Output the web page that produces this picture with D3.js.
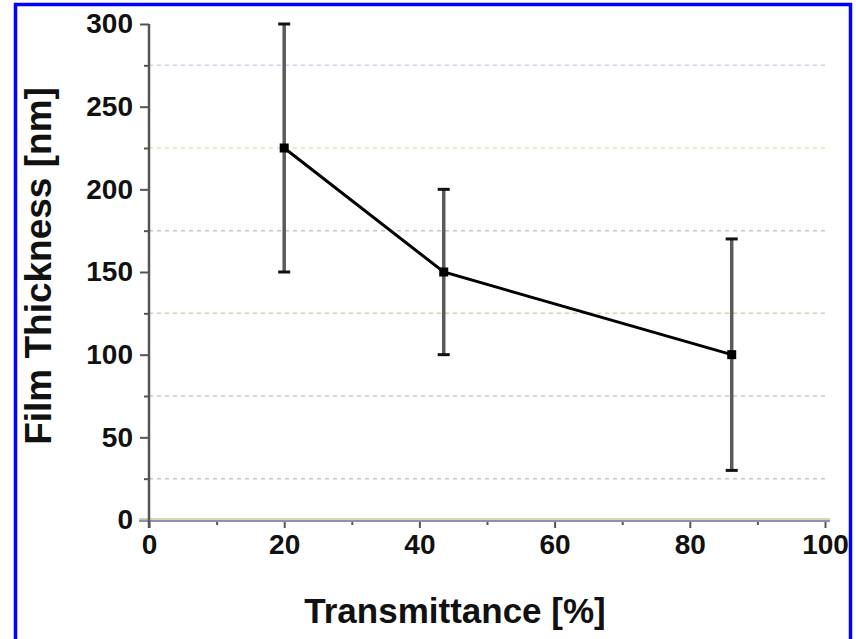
<!DOCTYPE html>
<html>
<head>
<meta charset="utf-8">
<script src="https://cdn.jsdelivr.net/npm/d3@7"></script>
<style>
  body { margin: 0; background: #fff; }
  text { font-family: "Liberation Sans", Arial, sans-serif; font-weight: bold; fill: #111; }
</style>
</head>
<body>
<div id="chart"></div>
<script>
var svgWidth = 856;
var svgHeight = 639;

var margin = { top: 24, right: 31, bottom: 119, left: 149 };
var width = svgWidth - margin.left - margin.right;
var height = svgHeight - margin.top - margin.bottom;

// data
var transmittance = [20, 43.6, 86.2];
var thickness = [225, 150, 100];
var errLow = [150, 100, 30];
var errHigh = [300, 200, 170];

var xTicks = [0, 20, 40, 60, 80, 100];
var yTicks = [0, 50, 100, 150, 200, 250, 300];
var gridValues = [25, 75, 125, 175, 225, 275];
var gridColors = ["#c4c4cc", "#c4c8dc", "#d4d0b4", "#c4c4cc", "#e2e2b0", "#d0d0ec"];

var svg = d3.select("#chart")
  .append("svg")
  .attr("width", svgWidth)
  .attr("height", svgHeight);

// blue frame
svg.append("rect")
  .attr("x", 15.5)
  .attr("y", 4.5)
  .attr("width", 835)
  .attr("height", 660)
  .attr("fill", "none")
  .attr("stroke", "#0000ff")
  .attr("stroke-width", 3.5);

var chartGroup = svg.append("g")
  .attr("transform", `translate(${margin.left}, ${margin.top})`);

var xScale = d3.scaleLinear().domain([0, 100]).range([0, width]);
var yScale = d3.scaleLinear().domain([0, 300]).range([height, 0]);

// dashed grid lines
chartGroup.selectAll(".grid")
  .data(gridValues)
  .enter()
  .append("line")
  .attr("x1", 0)
  .attr("x2", width + 3)
  .attr("y1", d => yScale(d))
  .attr("y2", d => yScale(d))
  .attr("stroke", (d, i) => gridColors[i])
  .attr("stroke-width", 1.5)
  .attr("stroke-dasharray", "4,4");

// x axis
var bottomAxis = d3.axisBottom(xScale)
  .tickValues(xTicks)
  .tickSize(8)
  .tickPadding(6)
  .tickFormat(d3.format("d"));

var xMinor = d3.axisBottom(xScale)
  .tickValues([10, 30, 50, 70, 90])
  .tickSize(5)
  .tickFormat("");

chartGroup.append("g")
  .attr("transform", `translate(0, ${height})`)
  .call(bottomAxis);
chartGroup.append("g")
  .attr("transform", `translate(0, ${height})`)
  .call(xMinor);

// left axis
var leftAxis = d3.axisLeft(yScale)
  .tickValues(yTicks)
  .tickSize(9)
  .tickPadding(7);

var yMinor = d3.axisLeft(yScale)
  .tickValues(gridValues)
  .tickSize(5)
  .tickFormat("");

chartGroup.append("g").call(leftAxis);
chartGroup.append("g").call(yMinor);

chartGroup.selectAll(".domain").remove();
chartGroup.selectAll(".tick line")
  .attr("stroke", "#555")
  .attr("stroke-width", 2);
chartGroup.selectAll(".tick text")
  .style("font-size", "28px")
  .attr("fill", "#111");

// axis lines
chartGroup.append("line")
  .attr("x1", -10).attr("x2", width + 5)
  .attr("y1", height - 1).attr("y2", height - 1)
  .attr("stroke", "#cfc6a4").attr("stroke-width", 1.5);
chartGroup.append("line")
  .attr("x1", -10).attr("x2", width + 5)
  .attr("y1", height + 1).attr("y2", height + 1)
  .attr("stroke", "#8a93b0").attr("stroke-width", 2);
chartGroup.append("line")
  .attr("x1", 0).attr("x2", 0)
  .attr("y1", 0).attr("y2", height + 8)
  .attr("stroke", "#555").attr("stroke-width", 2.5);

// error bars
var errGroup = chartGroup.selectAll(".err")
  .data(transmittance)
  .enter()
  .append("g");

errGroup.append("line")
  .attr("x1", d => xScale(d))
  .attr("x2", d => xScale(d))
  .attr("y1", (d, i) => yScale(errLow[i]))
  .attr("y2", (d, i) => yScale(errHigh[i]))
  .attr("stroke", "#5a5a5a")
  .attr("stroke-width", 3.5);

errGroup.append("line")
  .attr("x1", d => xScale(d) - 6)
  .attr("x2", d => xScale(d) + 6)
  .attr("y1", (d, i) => yScale(errHigh[i]))
  .attr("y2", (d, i) => yScale(errHigh[i]))
  .attr("stroke", "#111")
  .attr("stroke-width", 3);

errGroup.append("line")
  .attr("x1", d => xScale(d) - 6)
  .attr("x2", d => xScale(d) + 6)
  .attr("y1", (d, i) => yScale(errLow[i]))
  .attr("y2", (d, i) => yScale(errLow[i]))
  .attr("stroke", "#111")
  .attr("stroke-width", 3);

// line
var line = d3.line()
  .x(d => xScale(d[0]))
  .y(d => yScale(d[1]));

chartGroup.append("path")
  .datum(d3.zip(transmittance, thickness))
  .attr("d", line)
  .attr("fill", "none")
  .attr("stroke", "#000")
  .attr("stroke-width", 3);

// markers
chartGroup.selectAll(".pt")
  .data(transmittance)
  .enter()
  .append("rect")
  .attr("x", d => xScale(d) - 4.5)
  .attr("y", (d, i) => yScale(thickness[i]) - 4.5)
  .attr("width", 9)
  .attr("height", 9)
  .attr("fill", "#000");

// axis titles
svg.append("text")
  .attr("transform", "translate(51, 266) rotate(-90)")
  .attr("text-anchor", "middle")
  .style("font-size", "37px")
  .text("Film Thickness [nm]");

svg.append("text")
  .attr("x", 455)
  .attr("y", 623)
  .attr("text-anchor", "middle")
  .style("font-size", "35px")
  .text("Transmittance [%]");
</script>
</body>
</html>
